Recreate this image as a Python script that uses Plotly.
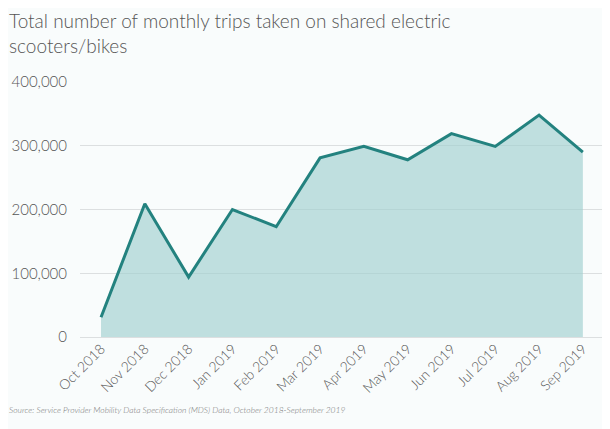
import plotly.graph_objects as go

months = ["Oct 2018", "Nov 2018", "Dec 2018", "Jan 2019", "Feb 2019", "Mar 2019",
          "Apr 2019", "May 2019", "Jun 2019", "Jul 2019", "Aug 2019", "Sep 2019"]
trips = [31000, 209000, 94000, 200000, 173000, 281000,
         299000, 278000, 319000, 299000, 348000, 290000]
y_ticks = [0, 100000, 200000, 300000, 400000]
y_tick_labels = ["0", "100,000", "200,000", "300,000", "400,000"]

title_text = "Total number of monthly trips taken on shared electric<br>scooters/bikes"
source_text = "Source: Service Provider Mobility Data Specification (MDS) Data, October 2018-September 2019"

FONT = "Lato Light, Lato, sans-serif"

fig = go.Figure()
fig.add_trace(go.Scatter(
    x=months, y=trips, mode="lines", fill="tozeroy",
    fillcolor="rgba(160,208,208,0.65)",
    line=dict(color="#23827f", width=3),
    hoverinfo="x+y",
))

fig.update_layout(
    width=602, height=421,
    margin=dict(l=72, r=7, t=74, b=92),
    paper_bgcolor="#f9fcfc",
    plot_bgcolor="rgba(0,0,0,0)",
    showlegend=False,
    font=dict(family=FONT, color="#555555"),
    xaxis=dict(
        type="category", range=[-0.48, 11.46], automargin=False,
        tickangle=-45, tickfont=dict(size=14, color="#5a5a5a", family=FONT),
        showgrid=False, zeroline=False, showline=False, ticks="",
    ),
    yaxis=dict(
        range=[0, 400000], tickvals=y_ticks, ticktext=y_tick_labels, automargin=False,
        tickfont=dict(size=15, color="#555555", family=FONT),
        showgrid=True, gridcolor="#dcdfe0", gridwidth=1,
        zeroline=True, zerolinecolor="#dcdfe0", zerolinewidth=1,
        ticks="", ticklabelstandoff=12,
    ),
    annotations=[
        dict(text=title_text, xref="paper", yref="paper", x=0, y=1,
             xanchor="left", yanchor="top", align="left", showarrow=False,
             font=dict(size=19, color="#555555", family=FONT),
             xshift=-73, yshift=75),
        dict(text=source_text, xref="paper", yref="paper", x=0, y=0,
             xanchor="left", yanchor="bottom", align="left", showarrow=False,
             font=dict(size=8.5, color="#777777", family=FONT, style="italic"),
             xshift=-73, yshift=-80),
    ],
)

fig.write_html("out.html")
